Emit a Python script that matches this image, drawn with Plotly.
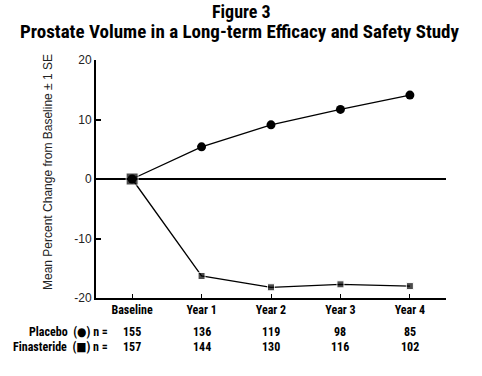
import plotly.graph_objects as go

categories = ["Baseline", "Year 1", "Year 2", "Year 3", "Year 4"]
placebo = [0, 5.4, 9.1, 11.7, 14.1]
finasteride = [0, -16.3, -18.2, -17.7, -18.0]
placebo_n = [155, 136, 119, 98, 85]
finasteride_n = [157, 144, 130, 116, 102]
y_ticks = [-20, -10, 0, 10, 20]

NARROW = "Roboto Condensed, DejaVu Sans Condensed, sans-serif"
REG = "Liberation Sans, Arial, sans-serif"

W, H = 482, 376
PLOT_L, PLOT_R, PLOT_T, PLOT_B = 96, 446, 60, 298   # pixels
L, R, T, B = PLOT_L, W - PLOT_R, PLOT_T, H - PLOT_B
PW, PH = PLOT_R - PLOT_L, PLOT_B - PLOT_T

def paper_y(py):
    return (PLOT_B - py) / PH

def paper_x(px):
    return (px - PLOT_L) / PW

xs = list(range(len(categories)))

fig = go.Figure()
fig.add_trace(go.Scatter(
    x=xs, y=placebo, mode="lines+markers",
    line=dict(color="black", width=1.3),
    marker=dict(symbol="circle", size=9, color="black"),
    showlegend=False, cliponaxis=False,
))
fig.add_trace(go.Scatter(
    x=xs, y=finasteride, mode="lines+markers",
    line=dict(color="black", width=1.3),
    marker=dict(symbol="square", size=[12, 7, 7, 7, 7], color="black"),
    showlegend=False, cliponaxis=False,
))

fig.add_annotation(text="<b>Figure 3</b>", x=paper_x(241), xref="paper", xanchor="center",
                   y=paper_y(11), yref="paper", yanchor="middle", showarrow=False,
                   font=dict(family=NARROW, size=18, color="black"))
fig.add_annotation(text="<b>Prostate Volume in a Long-term Efficacy and Safety Study</b>",
                   x=paper_x(240), xref="paper", xanchor="center",
                   y=paper_y(32), yref="paper", yanchor="middle", showarrow=False,
                   font=dict(family=NARROW, size=19, color="black"))

fig.add_annotation(text="Mean Percent Change from Baseline ± 1 SE", textangle=-90,
                   x=paper_x(48), xref="paper", xanchor="center",
                   y=paper_y(172), yref="paper", yanchor="middle", showarrow=False,
                   font=dict(family=REG, size=12, color="#222"))

for i in xs:
    fig.add_annotation(text=f"<b>{placebo_n[i]}</b>", x=i, xref="x", xanchor="center",
                       y=paper_y(332), yref="paper", yanchor="middle", showarrow=False,
                       font=dict(family=NARROW, size=12, color="black"))
    fig.add_annotation(text=f"<b>{finasteride_n[i]}</b>", x=i, xref="x", xanchor="center",
                       y=paper_y(347), yref="paper", yanchor="middle", showarrow=False,
                       font=dict(family=NARROW, size=12, color="black"))

fig.add_annotation(text="<b>Placebo  (●) n =</b>", x=paper_x(110), xref="paper", xanchor="right",
                   y=paper_y(332), yref="paper", yanchor="middle", showarrow=False,
                   font=dict(family=NARROW, size=12, color="black"))
fig.add_annotation(text="<b>Finasteride  (■) n =</b>", x=paper_x(110), xref="paper", xanchor="right",
                   y=paper_y(347), yref="paper", yanchor="middle", showarrow=False,
                   font=dict(family=NARROW, size=12, color="black"))

fig.update_xaxes(
    range=[-0.52, 4.52], tickvals=xs, ticktext=[f"<b>{c}</b>" for c in categories],
    showline=True, linecolor="black", linewidth=2, mirror=False,
    ticks="inside", ticklen=4, tickcolor="black", tickwidth=1,
    showgrid=False, zeroline=False, automargin=False,
    tickfont=dict(family=NARROW, size=12, color="black"),
)
fig.update_yaxes(
    range=[-20, 20], tickvals=y_ticks, ticktext=[str(v) for v in y_ticks],
    showline=True, linecolor="black", linewidth=2,
    ticks="inside", ticklen=5, tickcolor="black", tickwidth=2,
    showgrid=False, zeroline=True, zerolinecolor="black", zerolinewidth=2,
    automargin=False,
    tickfont=dict(family=REG, size=12, color="#222"),
)
fig.update_layout(
    width=W, height=H,
    margin=dict(l=L, r=R, t=T, b=B),
    paper_bgcolor="white", plot_bgcolor="white",
    showlegend=False,
)
fig.write_html("out.html", config={"displayModeBar": False},
               post_script="document.body.style.margin='0';")
